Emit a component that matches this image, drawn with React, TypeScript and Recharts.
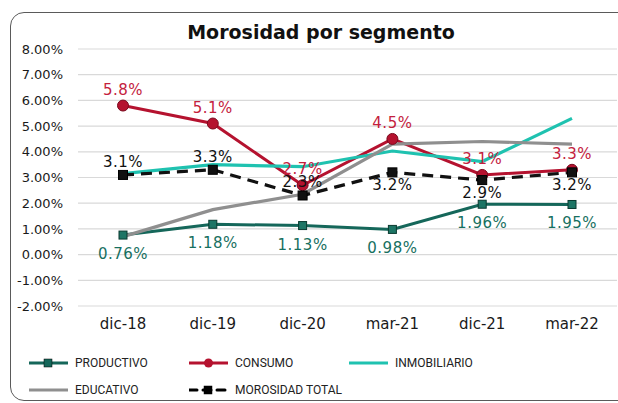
import { LineChart, Line, XAxis, YAxis, CartesianGrid, LabelList } from "recharts";

const periods = ["dic-18", "dic-19", "dic-20", "mar-21", "dic-21", "mar-22"];
const productivo = [0.76, 1.18, 1.13, 0.98, 1.96, 1.95];
const consumo = [5.8, 5.1, 2.7, 4.5, 3.1, 3.3];
const inmobiliario = [3.15, 3.5, 3.42, 4.03, 3.62, 5.3];
const educativo = [0.7, 1.75, 2.35, 4.3, 4.4, 4.3];
const morosidadTotal = [3.1, 3.3, 2.3, 3.2, 2.9, 3.2];
const yTicks = [-2, -1, 0, 1, 2, 3, 4, 5, 6, 7, 8];

const FONT = "'DejaVu Sans', sans-serif";
const C_PROD = "#15675a";
const C_CONS = "#b5122f";
const C_INMO = "#1fc2b0";
const C_EDU = "#8f8f8f";
const C_TOT = "#111111";

const data = periods.map((p, i) => ({
  period: p,
  productivo: productivo[i],
  consumo: consumo[i],
  inmobiliario: inmobiliario[i],
  educativo: educativo[i],
  total: morosidadTotal[i],
}));

// total labels sit above for the first three points, below for the rest
const totalAbove = [true, true, true, false, false, false];

function makeLabel(color: string, digits: number, offset: (i: number) => number) {
  return (props: any) => {
    const { x, y, value, index } = props;
    return (
      <text
        x={x}
        y={y + offset(index)}
        fill={color}
        textAnchor="middle"
        dominantBaseline="central"
        fontSize={15}
        letterSpacing={0.5}
        fontFamily={FONT}
      >
        {Number(value).toFixed(digits)}%
      </text>
    );
  };
}

const squareDot = (fill: string, stroke: string, size: number) => (props: any) => {
  const { cx, cy, index } = props;
  return (
    <rect
      key={`sq-${index}`}
      x={cx - size / 2}
      y={cy - size / 2}
      width={size}
      height={size}
      fill={fill}
      stroke={stroke}
      strokeWidth={1}
    />
  );
};

const circleDot = (props: any) => {
  const { cx, cy, index } = props;
  return <circle key={`c-${index}`} cx={cx} cy={cy} r={5.5} fill={C_CONS} stroke="#7a0a1e" strokeWidth={1} />;
};

function LegendIcon({ color, marker, dashed }: { color: string; marker?: "square" | "circle"; dashed?: boolean }) {
  return (
    <svg width={39} height={12} style={{ display: "block" }}>
      <line
        x1={0}
        y1={6}
        x2={39}
        y2={6}
        stroke={color}
        strokeWidth={3}
        strokeDasharray={dashed ? "8 6" : undefined}
        strokeLinecap="round"
      />
      {marker === "square" && <rect x={15} y={2} width={8} height={8} fill={color} stroke="#000" strokeWidth={0.5} />}
      {marker === "circle" && <circle cx={19.5} cy={6} r={4.5} fill={color} />}
    </svg>
  );
}

function LegendItem({ left, top, label, ...icon }: any) {
  return (
    <div style={{ position: "absolute", left, top, height: 14, display: "flex", alignItems: "center", gap: 7 }}>
      <LegendIcon {...icon} />
      <span style={{ fontFamily: "Roboto, sans-serif", fontSize: 12, color: "#222", whiteSpace: "nowrap" }}>
        {label}
      </span>
    </div>
  );
}

export default function App() {
  return (
    <div style={{ position: "absolute", left: 0, top: 0, width: 618, height: 403, overflow: "hidden", background: "#fff" }}>
      <div
        style={{
          position: "absolute",
          left: 10,
          top: 12,
          width: 640,
          height: 387,
          border: "1.5px solid #5a5a5a",
          borderRadius: 14,
        }}
      />
      <div
        style={{
          position: "absolute",
          left: 0,
          width: 642,
          top: 23,
          textAlign: "center",
          fontFamily: FONT,
          fontWeight: "bold",
          fontSize: 19,
          lineHeight: "19px",
          color: "#111",
        }}
      >
        Morosidad por segmento
      </div>
      <div style={{ position: "absolute", left: 0, top: 0 }}>
        <LineChart width={618} height={403} data={data} margin={{ top: 49, right: 1, left: 0, bottom: 0 }}>
          <CartesianGrid vertical={false} stroke="#d9d9d9" strokeWidth={1.2} />
          <XAxis
            dataKey="period"
            height={97}
            axisLine={false}
            tickLine={false}
            tickSize={0}
            tickMargin={12}
            padding={{ left: 45, right: 45 }}
            tick={{ fill: "#1a1a1a", fontSize: 15, fontFamily: FONT }}
          />
          <YAxis
            width={78}
            domain={[-2, 8]}
            ticks={yTicks}
            axisLine={false}
            tickLine={false}
            tickSize={0}
            tickMargin={15}
            tickFormatter={(v: number) => `${v.toFixed(2)}%`}
            tick={{ fill: "#1a1a1a", fontSize: 13, fontFamily: FONT }}
          />
          <Line
            dataKey="productivo"
            stroke={C_PROD}
            strokeWidth={3}
            dot={squareDot("#1d7565", "#0a3a30", 8)}
            isAnimationActive={false}
          >
            <LabelList dataKey="productivo" content={makeLabel("#17705f", 2, () => 19)} />
          </Line>
          <Line dataKey="consumo" stroke={C_CONS} strokeWidth={3} dot={circleDot} isAnimationActive={false}>
            <LabelList dataKey="consumo" content={makeLabel("#c4213d", 1, () => -16)} />
          </Line>
          <Line dataKey="inmobiliario" stroke={C_INMO} strokeWidth={3.2} dot={false} isAnimationActive={false} />
          <Line dataKey="educativo" stroke={C_EDU} strokeWidth={3.2} dot={false} isAnimationActive={false} />
          <Line
            dataKey="total"
            stroke={C_TOT}
            strokeWidth={3.2}
            strokeDasharray="11 7"
            dot={squareDot("#111", "#000", 9)}
            isAnimationActive={false}
          >
            <LabelList dataKey="total" content={makeLabel(C_TOT, 1, (i) => (totalAbove[i] ? -13 : 13))} />
          </Line>
        </LineChart>
      </div>
      <LegendItem left={29} top={356} label="PRODUCTIVO" color={C_PROD} marker="square" />
      <LegendItem left={189} top={356} label="CONSUMO" color={C_CONS} marker="circle" />
      <LegendItem left={349} top={356} label="INMOBILIARIO" color={C_INMO} />
      <LegendItem left={29} top={383} label="EDUCATIVO" color={C_EDU} />
      <LegendItem left={189} top={383} label="MOROSIDAD TOTAL" color="#000" marker="square" dashed />
    </div>
  );
}
